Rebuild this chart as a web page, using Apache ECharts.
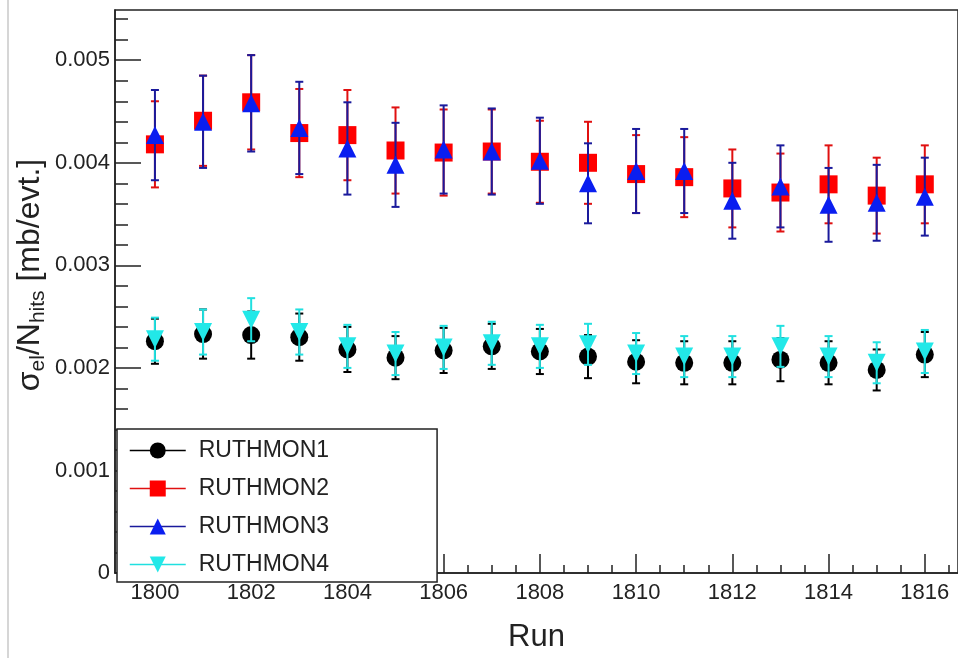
<!DOCTYPE html>
<html>
<head>
<meta charset="utf-8">
<script src="https://cdn.jsdelivr.net/npm/echarts@6/dist/echarts.min.js"></script>
<style>
  html, body { margin: 0; padding: 0; background: #fff; }
  #chart { width: 958px; height: 658px; }
</style>
</head>
<body>
<div id="chart"></div>
<script>
var runs = [1800, 1801, 1802, 1803, 1804, 1805, 1806, 1807, 1808, 1809, 1810, 1811, 1812, 1813, 1814, 1815, 1816];

var ruth1 = [0.00226, 0.00233, 0.00232, 0.00230, 0.00218, 0.00210, 0.00217, 0.00221, 0.00216, 0.00211, 0.00206, 0.00205, 0.00205, 0.00208, 0.00205, 0.00198, 0.00213];
var ruth1Err = [0.00022, 0.00024, 0.00023, 0.00023, 0.00022, 0.00021, 0.00022, 0.00022, 0.00022, 0.00021, 0.00021, 0.00021, 0.00021, 0.00021, 0.00021, 0.00020, 0.00022];

var ruth2 = [0.00418, 0.00441, 0.00459, 0.00429, 0.00427, 0.00412, 0.00410, 0.00411, 0.00401, 0.00400, 0.00389, 0.00386, 0.00375, 0.00371, 0.00379, 0.00368, 0.00379];
var ruth2Err = [0.00042, 0.00044, 0.00046, 0.00043, 0.00044, 0.00042, 0.00042, 0.00041, 0.00040, 0.00040, 0.00038, 0.00039, 0.00038, 0.00038, 0.00038, 0.00037, 0.00038];

var ruth3 = [0.00427, 0.00440, 0.00458, 0.00434, 0.00414, 0.00398, 0.00413, 0.00411, 0.00402, 0.00380, 0.00392, 0.00392, 0.00363, 0.00377, 0.00359, 0.00361, 0.00367];
var ruth3Err = [0.00044, 0.00045, 0.00047, 0.00045, 0.00045, 0.00041, 0.00043, 0.00042, 0.00042, 0.00039, 0.00041, 0.00041, 0.00037, 0.00040, 0.00036, 0.00037, 0.00038];

var ruth4 = [0.00228, 0.00235, 0.00247, 0.00235, 0.00221, 0.00214, 0.00220, 0.00224, 0.00221, 0.00223, 0.00214, 0.00211, 0.00211, 0.00221, 0.00211, 0.00205, 0.00216];
var ruth4Err = [0.00021, 0.00022, 0.00021, 0.00022, 0.00021, 0.00021, 0.00021, 0.00021, 0.00021, 0.00020, 0.00020, 0.00020, 0.00020, 0.00020, 0.00020, 0.00020, 0.00021];

var xMajor = [1800, 1802, 1804, 1806, 1808, 1810, 1812, 1814, 1816];
var xMinor = [1799.5, 1800.5, 1801, 1801.5, 1802.5, 1803, 1803.5, 1804.5, 1805, 1805.5, 1806.5, 1807, 1807.5,
  1808.5, 1809, 1809.5, 1810.5, 1811, 1811.5, 1812.5, 1813, 1813.5, 1814.5, 1815, 1815.5, 1816.5];
var yMajor = [0, 0.001, 0.002, 0.003, 0.004, 0.005];
var yMinor = [0.0002, 0.0004, 0.0006, 0.0008, 0.0012, 0.0014, 0.0016, 0.0018, 0.0022, 0.0024, 0.0026, 0.0028,
  0.0032, 0.0034, 0.0036, 0.0038, 0.0042, 0.0044, 0.0046, 0.0048, 0.0052, 0.0054];

var xMin = 1799.17, xMax = 1816.69;
var yMin = 0, yMax = 0.00549;

var FONT = '"Liberation Sans", Arial, Helvetica, sans-serif';
var AXIS = '#222';

var chart = echarts.init(document.getElementById('chart'));

function errSeries(vals, errs, color, z) {
  return {
    type: 'custom',
    name: 'err',
    xAxisIndex: 0,
    yAxisIndex: 0,
    z: z,
    silent: true,
    data: runs.map(function (r, i) { return [r, vals[i] - errs[i], vals[i] + errs[i]]; }),
    renderItem: function (params, api) {
      var lo = api.coord([api.value(0), api.value(1)]);
      var hi = api.coord([api.value(0), api.value(2)]);
      var x = lo[0];
      var w = 4;
      var st = { stroke: color, lineWidth: 2 };
      return {
        type: 'group',
        children: [
          { type: 'line', shape: { x1: x, y1: lo[1], x2: x, y2: hi[1] }, style: st },
          { type: 'line', shape: { x1: x - w, y1: lo[1], x2: x + w, y2: lo[1] }, style: st },
          { type: 'line', shape: { x1: x - w, y1: hi[1], x2: x + w, y2: hi[1] }, style: st }
        ]
      };
    }
  };
}

function ptSeries(name, vals, symbol, rotate, fill, line, z) {
  return {
    type: 'line',
    name: name,
    xAxisIndex: 0,
    yAxisIndex: 0,
    z: z,
    symbol: symbol,
    symbolRotate: rotate,
    symbolSize: 18,
    showAllSymbol: true,
    itemStyle: { color: fill, borderWidth: 0 },
    lineStyle: { color: line, width: 1.5, opacity: 0 },
    data: runs.map(function (r, i) { return [r, vals[i]]; })
  };
}

var option = {
  animation: false,
  backgroundColor: '#fff',
  textStyle: { fontFamily: FONT },
  grid: {
    left: 115, right: -3, top: 10, bottom: 73,
    show: true, borderColor: AXIS, borderWidth: 1.5
  },
  legend: {
    data: ['RUTHMON1', 'RUTHMON2', 'RUTHMON3', 'RUTHMON4'],
    orient: 'vertical',
    left: 117,
    top: 429,
    z: 20,
    backgroundColor: '#fff',
    borderColor: AXIS,
    borderWidth: 1.5,
    borderRadius: 0,
    padding: [10, 108, 6, 12],
    itemWidth: 56,
    itemHeight: 20,
    itemGap: 15,
    lineStyle: { opacity: 1, width: 1.5 },
    textStyle: { fontFamily: FONT, fontSize: 23, color: '#222', lineHeight: 20, padding: [0, 0, 0, 8] }
  },
  graphic: [
    { type: 'line', shape: { x1: 8, y1: 0, x2: 8, y2: 658 }, style: { stroke: '#c8c8c8', lineWidth: 1.5 }, z: 1 },
    {
      type: 'text', x: 30, y: 275, rotation: Math.PI / 2, z: 10,
      style: {
        text: '{m|σ}{s|el}{m|/N}{s|hits}{m| [mb/evt.]}',
        align: 'center', verticalAlign: 'middle', fill: '#222',
        font: '32px ' + FONT,
        rich: {
          m: { fontSize: 32, fontFamily: FONT, fill: '#222', verticalAlign: 'middle', lineHeight: 38 },
          s: { fontSize: 21, fontFamily: FONT, fill: '#222', verticalAlign: 'bottom', lineHeight: 38, padding: [15, 0, 0, 0] }
        }
      }
    }
  ],
  xAxis: [
    {
      type: 'value', min: xMin, max: xMax, position: 'bottom',
      name: 'Run', nameLocation: 'middle', nameGap: 49,
      nameTextStyle: { fontSize: 31, color: '#222', fontFamily: FONT },
      axisLine: { show: true, onZero: false, lineStyle: { color: AXIS, width: 1.5 } },
      axisTick: { show: true, inside: true, length: 19, customValues: xMajor, lineStyle: { color: AXIS, width: 1.5 } },
      axisLabel: {
        customValues: xMajor, fontSize: 22, color: '#222', margin: 9, fontFamily: FONT,
        formatter: function (v) { return String(v); }
      },
      splitLine: { show: false }
    },
    {
      type: 'value', min: xMin, max: xMax, position: 'bottom',
      axisLine: { show: false, onZero: false },
      axisTick: { show: true, inside: true, length: 8, customValues: xMinor, lineStyle: { color: AXIS, width: 1.5 } },
      axisLabel: { show: false },
      splitLine: { show: false }
    }
  ],
  yAxis: [
    {
      type: 'value', min: yMin, max: yMax, position: 'left',
      axisLine: { show: true, onZero: false, lineStyle: { color: AXIS, width: 1.5 } },
      axisTick: { show: true, inside: true, length: 26, customValues: yMajor, lineStyle: { color: AXIS, width: 1.5 } },
      axisLabel: {
        customValues: yMajor, fontSize: 22, color: '#222', margin: 5, fontFamily: FONT,
        formatter: function (v) { return v === 0 ? '0' : v.toFixed(3); }
      },
      splitLine: { show: false }
    },
    {
      type: 'value', min: yMin, max: yMax, position: 'left',
      axisLine: { show: false, onZero: false },
      axisTick: { show: true, inside: true, length: 13, customValues: yMinor, lineStyle: { color: AXIS, width: 1.5 } },
      axisLabel: { show: false },
      splitLine: { show: false }
    }
  ],
  series: [
    errSeries(ruth1, ruth1Err, '#000000', 2),
    ptSeries('RUTHMON1', ruth1, 'circle', 0, '#000000', '#000000', 3),
    errSeries(ruth2, ruth2Err, '#e01010', 4),
    ptSeries('RUTHMON2', ruth2, 'rect', 0, '#ff0000', '#e01010', 5),
    errSeries(ruth3, ruth3Err, '#1a1a9c', 6),
    ptSeries('RUTHMON3', ruth3, 'triangle', 0, '#0a1ef0', '#1a1a9c', 7),
    errSeries(ruth4, ruth4Err, '#20e0e0', 8),
    ptSeries('RUTHMON4', ruth4, 'triangle', 180, '#22e8e8', '#20e0e0', 9)
  ]
};

chart.setOption(option);
</script>
</body>
</html>
